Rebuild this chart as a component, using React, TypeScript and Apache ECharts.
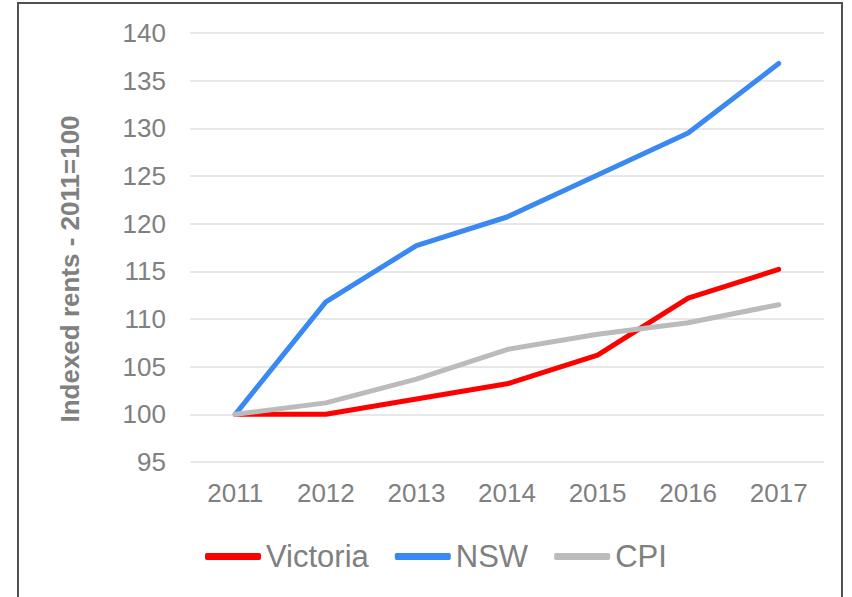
import React, { useEffect, useRef } from "react";
import * as echarts from "echarts";

const years = ["2011", "2012", "2013", "2014", "2015", "2016", "2017"];
const victoria = [100, 100, 101.6, 103.2, 106.2, 112.2, 115.2];
const nsw = [100, 111.8, 117.7, 120.7, 125.1, 129.5, 136.8];
const cpi = [100, 101.2, 103.7, 106.8, 108.4, 109.6, 111.5];
const yAxisTitle = "Indexed rents - 2011=100";

const TEXT = "#808080";
const FONT = "Arial, 'Liberation Sans', sans-serif";

export default function App() {
  const ref = useRef<HTMLDivElement>(null);
  useEffect(() => {
    if (!ref.current) return;
    const chart = echarts.init(ref.current, undefined, { renderer: "svg" });
    const mk = (name: string, data: number[], color: string) => ({
      name,
      type: "line",
      data,
      showSymbol: false,
      symbol: "none",
      lineStyle: { color, width: 5, cap: "round", join: "round" },
      itemStyle: { color },
    });
    chart.setOption({
      animation: false,
      backgroundColor: "#ffffff",
      textStyle: { fontFamily: FONT },
      grid: { left: 190, right: 28, top: 33, bottom: 135 },
      xAxis: {
        type: "category",
        data: years,
        boundaryGap: true,
        axisLine: { show: false },
        axisTick: { show: false },
        axisLabel: { color: TEXT, fontSize: 26, fontFamily: FONT, margin: 18 },
      },
      yAxis: {
        type: "value",
        min: 95,
        max: 140,
        interval: 5,
        axisLine: { show: false },
        axisTick: { show: false },
        axisLabel: { color: TEXT, fontSize: 26, fontFamily: FONT, margin: 24 },
        splitLine: { lineStyle: { color: "#e0e0e0", width: 1.5 } },
      },
      legend: {
        left: 200,
        top: 536,
        icon: "roundRect",
        itemWidth: 56,
        itemHeight: 7,
        itemGap: 26,
        textStyle: { color: TEXT, fontSize: 31, fontFamily: FONT },
        data: ["Victoria", "NSW", "CPI"],
      },
      graphic: [
        {
          type: "rect",
          shape: { x: 18, y: 3, width: 824, height: 620 },
          style: { fill: "none", stroke: "#505050", lineWidth: 2 },
          silent: true,
        },
        {
          type: "text",
          x: 70,
          y: 269,
          rotation: Math.PI / 2,
          style: {
            text: yAxisTitle,
            fill: TEXT,
            font: `bold 26px ${FONT}`,
            align: "center",
            verticalAlign: "middle",
          },
        },
      ],
      series: [
        mk("Victoria", victoria, "#ff0000"),
        mk("NSW", nsw, "#3a88f2"),
        mk("CPI", cpi, "#bbbbbb"),
      ],
    });
    return () => chart.dispose();
  }, []);
  return (
    <div
      ref={ref}
      style={{ position: "fixed", left: 0, top: 0, width: 852, height: 597 }}
    />
  );
}
